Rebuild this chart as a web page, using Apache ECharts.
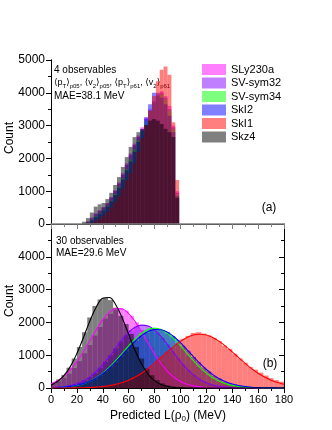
<!DOCTYPE html>
<html>
<head>
<meta charset="utf-8">
<script src="https://cdn.jsdelivr.net/npm/echarts@6/dist/echarts.min.js"></script>
<style>
  html, body { margin: 0; padding: 0; background: #fff; }
  #chart { width: 332px; height: 430px; }
</style>
</head>
<body>
<div id="chart"></div>
<script>
// series names, in drawing order
const names = ['SLy230a', 'SV-sym32', 'SV-sym34', 'SkI2', 'SkI1', 'Skz4']

// (a) 4 observables, bin width 3 MeV
const topBinWidth = 3
const topBinStart = [24, 27, 30, 33, 36, 39, 42, 45, 48, 51, 54, 57, 60, 63, 66, 69, 72, 75, 78, 81, 84, 87, 90, 93, 96]
const topSLy230a = [20, 80, 200, 330, 420, 520, 640, 820, 1030, 1270, 1550, 1850, 2150, 2450, 2700, 2950, 3250, 3500, 3750, 3950, 4050, 3900, 3600, 3000, 1000]
const topSVsym32 = [20, 70, 170, 300, 400, 500, 620, 800, 1000, 1230, 1500, 1800, 2100, 2400, 2650, 2900, 3200, 3450, 3700, 3900, 4000, 3850, 3500, 2950, 950]
const topSVsym34 = [10, 50, 130, 240, 340, 440, 560, 720, 920, 1150, 1400, 1680, 1970, 2280, 2550, 2850, 3150, 3450, 3700, 3900, 3950, 3800, 3450, 2900, 900]
const topSkI2 = [10, 40, 110, 210, 310, 410, 530, 690, 880, 1100, 1350, 1630, 1900, 2200, 2500, 2850, 3250, 3650, 4000, 4000, 3850, 3650, 3300, 2800, 850]
const topSkI1 = [0, 10, 40, 90, 160, 250, 360, 500, 660, 850, 1080, 1330, 1550, 1850, 2200, 2600, 3000, 3450, 3900, 4350, 4700, 4800, 4550, 3100, 1340]
const topSkz4 = [70, 180, 350, 530, 600, 640, 760, 950, 1190, 1430, 1740, 2040, 2350, 2650, 2800, 2900, 3020, 3150, 3200, 3150, 3050, 2900, 2800, 2650, 800]

// (b) 30 observables, bin width 4 MeV
const botBinWidth = 4
const botBinStart = [0, 4, 8, 12, 16, 20, 24, 28, 32, 36, 40, 44, 48, 52, 56, 60, 64, 68, 72, 76, 80, 84, 88, 92, 96, 100, 104, 108, 112, 116, 120, 124, 128, 132, 136, 140, 144, 148, 152, 156, 160, 164, 168, 172, 176]
const botSLy230a = [130, 210, 310, 440, 610, 820, 1060, 1310, 1600, 1860, 2120, 2260, 2390, 2440, 2360, 2200, 2000, 1770, 1500, 1240, 990, 770, 580, 420, 290, 190, 120, 75, 45, 25, 14, 7, 3, 0, 0, 0, 0, 0, 0, 0, 0, 0, 0, 0, 0]
const botSVsym32 = [15, 25, 40, 65, 100, 160, 235, 335, 460, 620, 800, 1000, 1210, 1420, 1610, 1760, 1870, 1920, 1900, 1830, 1700, 1530, 1330, 1120, 910, 720, 550, 405, 290, 200, 135, 88, 55, 33, 20, 11, 6, 3, 0, 0, 0, 0, 0, 0, 0]
const botSVsym34 = [9, 16, 26, 41, 65, 98, 150, 205, 295, 390, 525, 660, 840, 1005, 1230, 1360, 1510, 1690, 1750, 1840, 1800, 1770, 1650, 1550, 1360, 1210, 1000, 845, 655, 530, 385, 295, 200, 150, 95, 65, 41, 26, 16, 9, 5, 3, 0, 0, 0]
const botSkI2 = [11, 18, 28, 44, 68, 100, 146, 206, 283, 380, 498, 640, 780, 965, 1120, 1310, 1450, 1600, 1690, 1780, 1790, 1760, 1710, 1580, 1470, 1290, 1140, 945, 800, 625, 505, 375, 290, 200, 150, 100, 68, 44, 28, 18, 11, 6, 4, 2, 1]
const botSkI1 = [0, 1, 1, 2, 4, 7, 11, 16, 25, 37, 55, 79, 111, 153, 206, 274, 355, 451, 561, 685, 819, 959, 1101, 1238, 1364, 1500, 1590, 1680, 1700, 1660, 1600, 1530, 1430, 1290, 1190, 1040, 900, 770, 640, 560, 470, 380, 300, 240, 190]
const botSkz4 = [150, 260, 400, 620, 900, 1250, 1700, 2150, 2500, 2700, 2750, 2680, 2450, 2200, 1950, 1650, 1250, 900, 600, 390, 240, 140, 80, 40, 20, 10, 5, 0, 0, 0, 0, 0, 0, 0, 0, 0, 0, 0, 0, 0, 0, 0, 0, 0, 0]

// gaussian fits, every 5 MeV
const fitL = [0, 5, 10, 15, 20, 25, 30, 35, 40, 45, 50, 55, 60, 65, 70, 75, 80, 85, 90, 95, 100, 105, 110, 115, 120, 125, 130, 135, 140, 145, 150, 155, 160, 165, 170, 175, 180]
const fitSLy230a = [130, 223, 361, 553, 803, 1104, 1440, 1778, 2079, 2304, 2420, 2406, 2268, 2024, 1712, 1371, 1041, 748, 510, 329, 201, 116, 64, 33, 16, 8, 3, 1, 0, 0, 0, 0, 0, 0, 0, 0, 0]
const fitSVsym32 = [11, 21, 41, 75, 131, 216, 338, 503, 711, 955, 1217, 1474, 1694, 1850, 1918, 1888, 1766, 1568, 1322, 1059, 805, 582, 399, 260, 161, 94, 53, 28, 14, 7, 3, 1, 0, 0, 0, 0, 0]
const fitSVsym34 = [7, 14, 26, 46, 80, 132, 208, 314, 454, 628, 833, 1058, 1286, 1497, 1669, 1781, 1820, 1781, 1669, 1497, 1286, 1058, 833, 628, 454, 314, 208, 132, 80, 46, 26, 14, 7, 4, 2, 1, 0]
const fitSkI2 = [8, 16, 28, 49, 83, 133, 206, 306, 437, 599, 789, 999, 1216, 1421, 1595, 1721, 1784, 1777, 1701, 1564, 1381, 1172, 956, 749, 564, 408, 283, 189, 121, 75, 44, 25, 14, 7, 4, 2, 1]
const fitSkI1 = [0, 1, 1, 3, 5, 9, 16, 28, 45, 72, 111, 165, 238, 333, 451, 591, 751, 924, 1101, 1271, 1421, 1539, 1614, 1640, 1614, 1539, 1421, 1271, 1101, 924, 751, 591, 451, 333, 238, 165, 111]
const fitSkz4 = [93, 196, 376, 659, 1052, 1533, 2038, 2472, 2734, 2760, 2540, 2134, 1635, 1143, 729, 424, 225, 109, 48, 19, 7, 2, 1, 0, 0, 0, 0, 0, 0, 0, 0, 0, 0, 0, 0, 0, 0]

const countTicks = [0, 1000, 2000, 3000, 4000, 5000]
const lTicks = [0, 20, 40, 60, 80, 100, 120, 140, 160, 180]

const topHist = [topSLy230a, topSVsym32, topSVsym34, topSkI2, topSkI1, topSkz4]
const botHist = [botSLy230a, botSVsym32, botSVsym34, botSkI2, botSkI1, botSkz4]
const botFit = [fitSLy230a, fitSVsym32, fitSVsym34, fitSkI2, fitSkI1, fitSkz4]

const fills = ['rgba(255,0,255,0.5)', 'rgba(128,0,255,0.5)', 'rgba(0,255,0,0.5)', 'rgba(0,0,255,0.5)', 'rgba(255,0,0,0.5)', 'rgba(0,0,0,0.5)']
const lineColors = ['#ff00ff', '#8000ff', '#00ff00', '#0000ff', '#ff0000', '#000000']
const FONT = 'Liberation Sans, Arial, DejaVu Sans, sans-serif'

const chart = echarts.init(document.getElementById('chart'), null, { renderer: 'canvas' })

// one rect per bin, drawn through the axis scales
const histRender = (binW) => (params, api) => {
  const x0 = api.value(0)
  const v = api.value(1)
  const p0 = api.coord([x0, v])
  const p1 = api.coord([x0 + binW, 0])
  return {
    type: 'rect',
    shape: { x: p0[0], y: p0[1], width: p1[0] - p0[0], height: p1[1] - p0[1] },
    style: { fill: api.visual('color') }
  }
}

const series = []
names.forEach((name, i) => {
  series.push({
    type: 'custom', name: name, xAxisIndex: 0, yAxisIndex: 0,
    renderItem: histRender(topBinWidth),
    data: topBinStart.map((b, k) => [b, topHist[i][k]]),
    encode: { x: 0, y: 1 },
    itemStyle: { color: fills[i] },
    clip: true, silent: true, z: 2
  })
})
names.forEach((name, i) => {
  series.push({
    type: 'custom', name: name, xAxisIndex: 2, yAxisIndex: 2,
    renderItem: histRender(botBinWidth),
    data: botBinStart.map((b, k) => [b, botHist[i][k]]),
    encode: { x: 0, y: 1 },
    itemStyle: { color: fills[i] },
    clip: true, silent: true, z: 2
  })
})
names.forEach((name, i) => {
  series.push({
    type: 'line', name: name + ' fit', xAxisIndex: 2, yAxisIndex: 2,
    data: fitL.map((l, k) => [l, botFit[i][k]]),
    smooth: 0.4, showSymbol: false, symbol: 'none',
    lineStyle: { color: lineColors[i], width: 1.1 },
    clip: true, silent: true, z: 3
  })
})

const tickStyle = { color: '#000', width: 1 }
const xBase = {
  type: 'value', min: 0, max: 180, interval: 20,
  splitLine: { show: false }, axisLabel: { show: false },
  minorTick: { show: true, splitNumber: 2, length: 3, lineStyle: tickStyle },
  axisTick: { length: 5, lineStyle: tickStyle }
}
const yBase = {
  type: 'value', min: 0, max: 5000, interval: 1000,
  splitLine: { show: false }, axisLabel: { show: false },
  minorTick: { show: true, splitNumber: 2, length: 3, lineStyle: tickStyle },
  axisTick: { length: 5, lineStyle: tickStyle }
}

const option = {
  animation: false,
  backgroundColor: '#fff',
  textStyle: { fontFamily: FONT },
  grid: [
    { left: 51, top: 60, width: 233, height: 164 },
    { left: 51, top: 224, width: 233, height: 164 }
  ],
  xAxis: [
    Object.assign({}, xBase, {
      gridIndex: 0, position: 'bottom',
      axisLine: { lineStyle: { color: '#808080', width: 1.5 } },
      axisTick: { inside: false, length: 5, lineStyle: { color: '#808080', width: 1 } },
      minorTick: { show: true, splitNumber: 2, length: 3, lineStyle: { color: '#808080', width: 1 } },
      z: 5
    }),
    Object.assign({}, xBase, {
      gridIndex: 0, position: 'top',
      axisLine: { lineStyle: { color: '#000', width: 1 } },
      axisTick: { inside: true, length: 5, lineStyle: tickStyle },
      minorTick: { show: true, splitNumber: 2, length: 3, lineStyle: tickStyle }
    }),
    Object.assign({}, xBase, {
      gridIndex: 1, position: 'bottom',
      axisLine: { lineStyle: { color: '#000', width: 1 } },
      axisTick: { inside: false, length: 5, lineStyle: tickStyle },
      axisLabel: {
        show: true, fontSize: 11, color: '#000', fontFamily: FONT, margin: 6,
        formatter: (v) => lTicks.indexOf(v) >= 0 ? String(v) : ''
      }
    })
  ],
  yAxis: [
    Object.assign({}, yBase, {
      gridIndex: 0, position: 'left',
      axisLine: { show: true, lineStyle: { color: '#000', width: 1 } },
      axisTick: { inside: false, length: 5, lineStyle: tickStyle },
      axisLabel: {
        show: true, fontSize: 12, color: '#000', fontFamily: FONT, margin: 6,
        formatter: (v) => countTicks.indexOf(v) >= 0 ? String(v) : ''
      }
    }),
    Object.assign({}, yBase, {
      gridIndex: 0, position: 'right',
      axisLine: { show: true, lineStyle: { color: '#000', width: 1 } },
      axisTick: { inside: true, length: 5, lineStyle: tickStyle },
      minorTick: { show: true, splitNumber: 2, length: 3, lineStyle: tickStyle }
    }),
    Object.assign({}, yBase, {
      gridIndex: 1, position: 'left',
      axisLine: { show: true, lineStyle: { color: '#000', width: 1 } },
      axisTick: { inside: false, length: 5, lineStyle: tickStyle },
      axisLabel: {
        show: true, fontSize: 12, color: '#000', fontFamily: FONT, margin: 6,
        formatter: (v) => (v !== 5000 && countTicks.indexOf(v) >= 0) ? String(v) : ''
      }
    }),
    Object.assign({}, yBase, {
      gridIndex: 1, position: 'right',
      axisLine: { show: true, lineStyle: { color: '#000', width: 1 } },
      axisTick: { inside: true, length: 5, lineStyle: tickStyle },
      minorTick: { show: true, splitNumber: 2, length: 3, lineStyle: tickStyle }
    })
  ],
  legend: {
    orient: 'vertical', left: 202, top: 64, padding: 0,
    itemWidth: 24, itemHeight: 11, itemGap: 2.5,
    icon: 'rect',
    data: names,
    selectedMode: false,
    textStyle: { fontSize: 11, color: '#000', fontFamily: FONT }
  },
  graphic: [
    { type: 'text', x: 54, y: 70, silent: true,
      style: { text: '4 observables', font: '10px ' + FONT, fill: '#000', textAlign: 'left', textVerticalAlign: 'middle', align: 'left', verticalAlign: 'middle' } },
    { type: 'text', x: 54, y: 83, silent: true,
      style: {
        text: '⟨p{s|T}⟩{s|p05}, ⟨v{s|2}⟩{s|p05}, ⟨p{s|T}⟩{s|p61}, ⟨v{s|2}⟩{s|p61}',
        font: '9px ' + FONT, fill: '#000', lineHeight: 12,
        textAlign: 'left', textVerticalAlign: 'middle', align: 'left', verticalAlign: 'middle',
        rich: { s: { fontSize: 6, fontFamily: FONT, lineHeight: 7, verticalAlign: 'bottom' } }
      } },
    { type: 'text', x: 54, y: 96, silent: true,
      style: { text: 'MAE=38.1 MeV', font: '10px ' + FONT, fill: '#000', textAlign: 'left', textVerticalAlign: 'middle', align: 'left', verticalAlign: 'middle' } },
    { type: 'text', x: 56, y: 241, silent: true,
      style: { text: '30 observables', font: '10px ' + FONT, fill: '#000', textAlign: 'left', textVerticalAlign: 'middle', align: 'left', verticalAlign: 'middle' } },
    { type: 'text', x: 56, y: 253, silent: true,
      style: { text: 'MAE=29.6 MeV', font: '10px ' + FONT, fill: '#000', textAlign: 'left', textVerticalAlign: 'middle', align: 'left', verticalAlign: 'middle' } },
    { type: 'text', x: 269, y: 208, silent: true,
      style: { text: '(a)', font: '12px ' + FONT, fill: '#000', textAlign: 'center', textVerticalAlign: 'middle', align: 'center', verticalAlign: 'middle' } },
    { type: 'text', x: 270, y: 364, silent: true,
      style: { text: '(b)', font: '12px ' + FONT, fill: '#000', textAlign: 'center', textVerticalAlign: 'middle', align: 'center', verticalAlign: 'middle' } },
    { type: 'text', x: 10, y: 138, rotation: Math.PI / 2, silent: true,
      style: { text: 'Count', font: '12px ' + FONT, fill: '#000', textAlign: 'center', textVerticalAlign: 'middle', align: 'center', verticalAlign: 'middle' } },
    { type: 'text', x: 10, y: 301, rotation: Math.PI / 2, silent: true,
      style: { text: 'Count', font: '12px ' + FONT, fill: '#000', textAlign: 'center', textVerticalAlign: 'middle', align: 'center', verticalAlign: 'middle' } },
    { type: 'text', x: 168, y: 416, silent: true,
      style: {
        text: 'Predicted L(ρ{s|0}) (MeV)', font: '12px ' + FONT, fill: '#000', lineHeight: 14,
        textAlign: 'center', textVerticalAlign: 'middle', align: 'center', verticalAlign: 'middle',
        rich: { s: { fontSize: 8, fontFamily: FONT, lineHeight: 9, verticalAlign: 'bottom' } }
      } }
  ],
  series: series
}

chart.setOption(option)
</script>
</body>
</html>
